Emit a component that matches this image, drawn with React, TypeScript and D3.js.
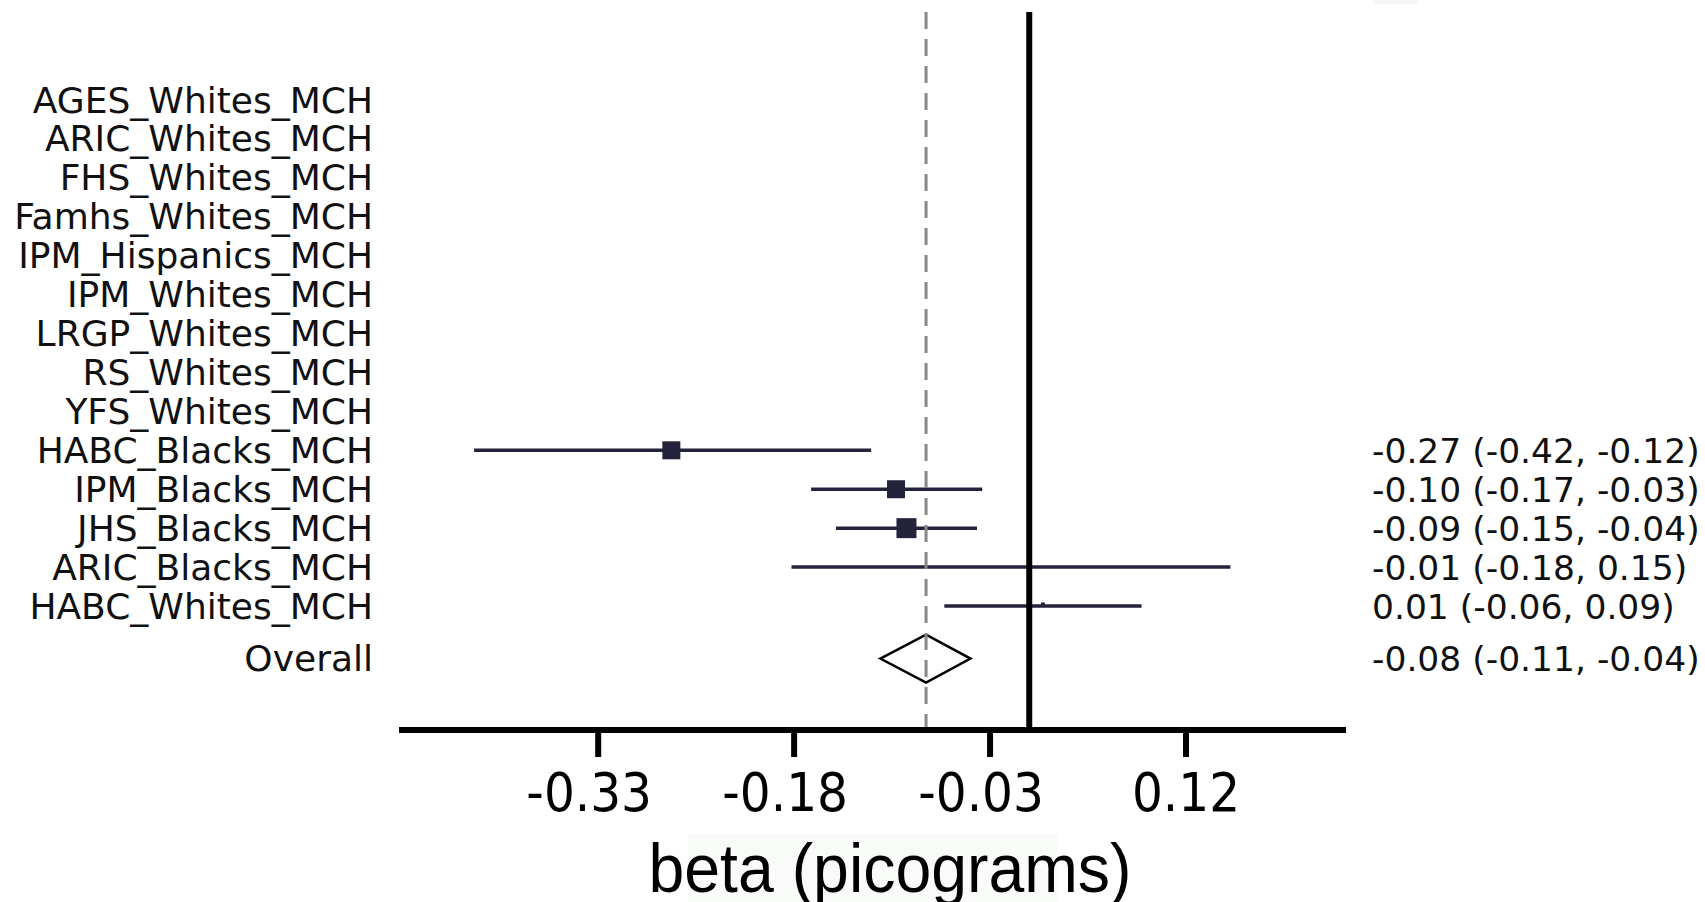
import * as d3 from 'd3';
import React from 'react';

// study rows, top to bottom
const studies = [
  'AGES_Whites_MCH',
  'ARIC_Whites_MCH',
  'FHS_Whites_MCH',
  'Famhs_Whites_MCH',
  'IPM_Hispanics_MCH',
  'IPM_Whites_MCH',
  'LRGP_Whites_MCH',
  'RS_Whites_MCH',
  'YFS_Whites_MCH',
  'HABC_Blacks_MCH',
  'IPM_Blacks_MCH',
  'JHS_Blacks_MCH',
  'ARIC_Blacks_MCH',
  'HABC_Whites_MCH',
];

// estimates (null = no estimate shown)
const betas = [null, null, null, null, null, null, null, null, null, -0.274, -0.102, -0.094, -0.014, 0.0105];
const lowers = [null, null, null, null, null, null, null, null, null, -0.425, -0.167, -0.148, -0.182, -0.065];
const uppers = [null, null, null, null, null, null, null, null, null, -0.121, -0.036, -0.04, 0.154, 0.086];
const weights = [0, 0, 0, 0, 0, 0, 0, 0, 0, 0.81, 0.81, 1.0, 0, 0.04];
const ciLabels = [
  '', '', '', '', '', '', '', '', '',
  '-0.27 (-0.42, -0.12)',
  '-0.10 (-0.17, -0.03)',
  '-0.09 (-0.15, -0.04)',
  '-0.01 (-0.18, 0.15)',
  '0.01 (-0.06, 0.09)',
];

const overallLabel = 'Overall';
const overallBeta = -0.079;
const overallLower = -0.114;
const overallUpper = -0.045;
const overallCi = '-0.08 (-0.11, -0.04)';

const xTicks = [-0.33, -0.18, -0.03, 0.12];
const xDomain = [-0.4825, 0.2425];
const xTitle = 'beta (picograms)';

const W = 1705;
const H = 902;

const App = () => {
  const x = d3.scaleLinear().domain(xDomain).range([399, 1346]);
  // row index -> vertical position, overall sits a bit below the last study
  const y = d3.scaleLinear().domain([0, studies.length - 1]).range([100, 606]);
  const overallY = y(studies.length + 0.35);
  const size = d3.scaleSqrt().domain([0, 1]).range([0, 20]);

  const axisY = 730;
  const topY = 12;
  const lineColor = '#23233b';
  const labelFont = "'DejaVu Sans', sans-serif";

  const diamond = d3.line()([
    [x(overallLower), overallY],
    [x(overallBeta), overallY - 24],
    [x(overallUpper), overallY],
    [x(overallBeta), overallY + 24],
  ]) + 'Z';

  return (
    <svg
      width={W}
      height={H}
      style={{ position: 'absolute', left: 0, top: 0, background: 'white' }}
    >
      {/* faint box behind axis title */}
      <rect x={688} y={833} width={370} height={69} fill="#f9fbf9" />
      <rect x={1373} y={0} width={45} height={4} fill="#f6f6f6" />

      {/* study labels */}
      {studies.map((s, i) => (
        <text
          key={s}
          x={373}
          y={y(i) + 12.5}
          textAnchor="end"
          fontFamily={labelFont}
          fontSize={36}
          fill="#111"
        >
          {s}
        </text>
      ))}
      <text x={373} y={overallY + 12.5} textAnchor="end" fontFamily={labelFont} fontSize={36} fill="#111">
        {overallLabel}
      </text>

      {/* CI text on the right */}
      {ciLabels.map((t, i) =>
        t ? (
          <text key={i} x={1372} y={y(i) + 12.5} fontFamily={labelFont} fontSize={34.5} fill="#111">
            {t}
          </text>
        ) : null
      )}
      <text x={1372} y={overallY + 12.5} fontFamily={labelFont} fontSize={34.5} fill="#111">
        {overallCi}
      </text>

      {/* confidence intervals and weighted squares */}
      {betas.map((b, i) => {
        if (b === null) return null;
        const s = size(weights[i]);
        return (
          <g key={i}>
            <line
              x1={x(lowers[i])}
              x2={x(uppers[i])}
              y1={y(i)}
              y2={y(i)}
              stroke={lineColor}
              strokeWidth={3.5}
            />
            {s > 0 && (
              <rect x={x(b) - s / 2} y={y(i) - s / 2 - (s < 6 ? 1.5 : 0)} width={s} height={s} fill={lineColor} />
            )}
          </g>
        );
      })}

      {/* overall diamond */}
      <path d={diamond} fill="none" stroke="#000" strokeWidth={2.5} />

      {/* overall estimate reference line */}
      <line
        x1={x(overallBeta)}
        x2={x(overallBeta)}
        y1={topY}
        y2={axisY}
        stroke="#888"
        strokeWidth={3}
        strokeDasharray="17 10"
      />

      {/* null line */}
      <line x1={x(0)} x2={x(0)} y1={topY} y2={axisY} stroke="#000" strokeWidth={6} />

      {/* x axis */}
      <line x1={x.range()[0]} x2={x.range()[1]} y1={axisY} y2={axisY} stroke="#000" strokeWidth={6} />
      {xTicks.map((t) => (
        <g key={t}>
          <line x1={x(t)} x2={x(t)} y1={axisY} y2={axisY + 27} stroke="#000" strokeWidth={6} />
          <text
            x={x(t)}
            dx={t < 0 ? -9 : 0}
            y={811}
            textAnchor="middle"
            fontFamily="'DejaVu Sans Condensed', 'DejaVu Sans', sans-serif"
            fontStretch="condensed"
            fontSize={54}
            fill="#000"
          >
            {t.toFixed(2)}
          </text>
        </g>
      ))}
      <text
        x={890}
        y={892}
        textAnchor="middle"
        fontFamily="'Liberation Sans', Arial, sans-serif"
        fontSize={68}
        textLength={483}
        lengthAdjust="spacingAndGlyphs"
        fill="#000"
      >
        {xTitle}
      </text>
    </svg>
  );
};

export default App;
